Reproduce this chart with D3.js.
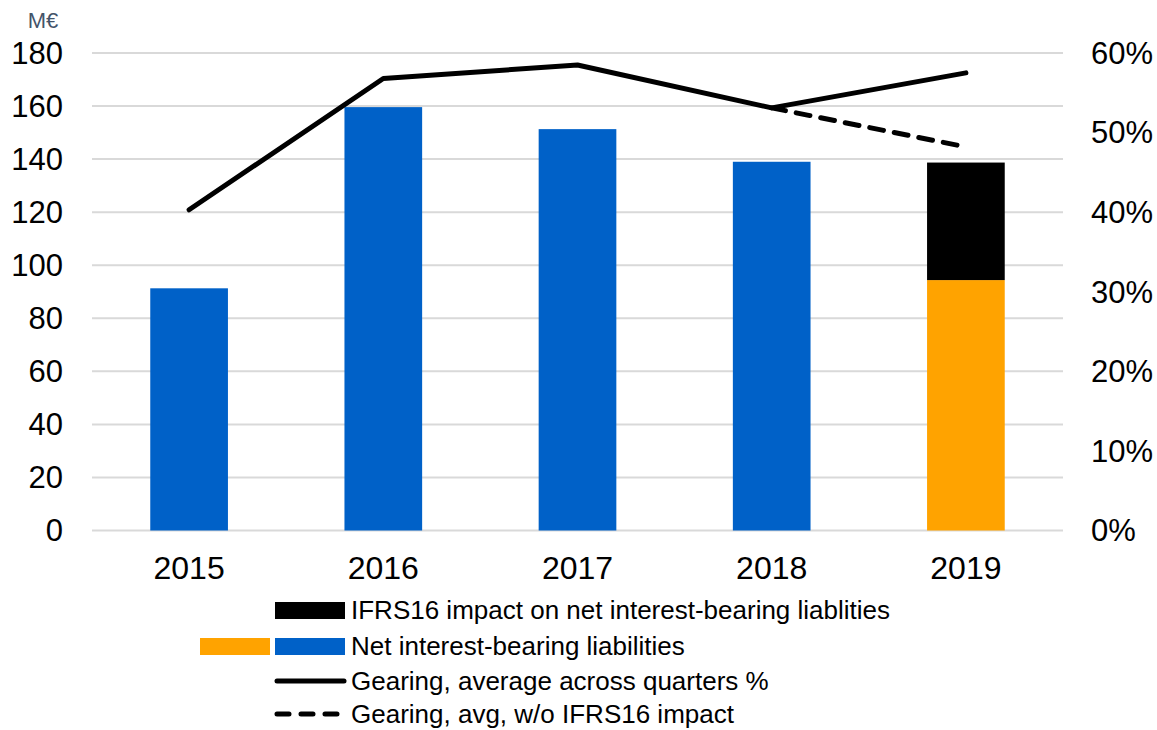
<!DOCTYPE html>
<html lang="en">
<head>
<meta charset="UTF-8">
<title>Net interest-bearing liabilities and gearing</title>
<script src="https://cdnjs.cloudflare.com/ajax/libs/d3/7.8.5/d3.min.js"></script>
<style>
    body { margin: 0; background: #fff; }
    svg text { font-family: "Liberation Sans", Arial, sans-serif; fill: #000; }
    .grid line { stroke: #d9d9d9; stroke-width: 2; }
</style>
</head>
<body>
<svg id="chart" width="1157" height="730"></svg>
<script>
// data
const years = ["2015", "2016", "2017", "2018", "2019"];
const netLiabilities = [91.3, 159.6, 151.3, 139.0, 94.4];   // blue (orange for 2019)
const ifrs16Impact = [0, 0, 0, 0, 44.3];                     // black, stacked on top
const gearing = [40.3, 56.8, 58.5, 53.1, 57.5];              // % solid line
const gearingNoIfrs = [null, null, null, 53.1, 48.2];        // % dashed line
const leftTicks = [0, 20, 40, 60, 80, 100, 120, 140, 160, 180];
const rightTicks = [0, 10, 20, 30, 40, 50, 60];

const blue = "#0061c8", orange = "#ffa300";

const svg = d3.select("#chart");
const margin = { left: 92, right: 94, top: 53, bottom: 199.5 };
const W = 1157, H = 730;

const x = d3.scaleBand().domain(years).range([margin.left, W - margin.right]).paddingInner(0.6).paddingOuter(0.3);
const y = d3.scaleLinear().domain([0, 180]).range([H - margin.bottom, margin.top]);
const y2 = d3.scaleLinear().domain([0, 60]).range([H - margin.bottom, margin.top]);

// gridlines
svg.append("g").attr("class", "grid")
    .selectAll("line").data(leftTicks).join("line")
    .attr("x1", margin.left).attr("x2", W - margin.right)
    .attr("y1", d => y(d)).attr("y2", d => y(d));

// left axis labels
svg.append("g").selectAll("text").data(leftTicks).join("text")
    .attr("x", 63).attr("y", d => y(d)).attr("dy", "0.35em")
    .attr("text-anchor", "end").style("font-size", "31px")
    .text(d => d);

svg.append("text").attr("x", 43).attr("y", 20).attr("dy", "0.35em")
    .attr("text-anchor", "middle").style("font-size", "22px").style("fill", "#44546a")
    .text("M€");

// right axis labels
svg.append("g").selectAll("text").data(rightTicks).join("text")
    .attr("x", 1091).attr("y", d => y2(d)).attr("dy", "0.35em")
    .attr("text-anchor", "start").style("font-size", "31px")
    .text(d => d + "%");

// x labels
svg.append("g").selectAll("text").data(years).join("text")
    .attr("x", d => x(d) + x.bandwidth() / 2).attr("y", 568).attr("dy", "0.35em")
    .attr("text-anchor", "middle").style("font-size", "32px")
    .text(d => d);

// bars
svg.append("g").selectAll("rect").data(years).join("rect")
    .attr("x", d => x(d)).attr("width", x.bandwidth())
    .attr("y", (d, i) => y(netLiabilities[i]))
    .attr("height", (d, i) => y(0) - y(netLiabilities[i]))
    .attr("fill", (d, i) => i === 4 ? orange : blue);

svg.append("g").selectAll("rect").data(years.filter((d, i) => ifrs16Impact[i] > 0)).join("rect")
    .attr("x", d => x(d)).attr("width", x.bandwidth())
    .attr("y", d => { const i = years.indexOf(d); return y(netLiabilities[i] + ifrs16Impact[i]); })
    .attr("height", d => { const i = years.indexOf(d); return y(netLiabilities[i]) - y(netLiabilities[i] + ifrs16Impact[i]); })
    .attr("fill", "#000");

// gearing lines
const cx = d => x(d) + x.bandwidth() / 2;
const line = d3.line().defined(d => d.v != null).x(d => cx(d.year)).y(d => y2(d.v));

svg.append("path")
    .datum(years.map((yr, i) => ({ year: yr, v: gearingNoIfrs[i] })))
    .attr("d", line).attr("fill", "none").attr("stroke", "#000")
    .attr("stroke-width", 5).attr("stroke-dasharray", "14,11").attr("stroke-linecap", "round");

svg.append("path")
    .datum(years.map((yr, i) => ({ year: yr, v: gearing[i] })))
    .attr("d", line).attr("fill", "none").attr("stroke", "#000")
    .attr("stroke-width", 5).attr("stroke-linecap", "round").attr("stroke-linejoin", "round");

// legend
const legend = svg.append("g").style("font-size", "26px");
const rows = [
    { label: "IFRS16 impact on net interest-bearing liablities", y: 610, type: "rect", colors: ["#000"] },
    { label: "Net interest-bearing liabilities", y: 646, type: "rect", colors: [blue, orange] },
    { label: "Gearing, average across quarters %", y: 681, type: "line" },
    { label: "Gearing, avg, w/o IFRS16 impact", y: 714, type: "dash" }
];
rows.forEach(r => {
    if (r.type === "rect") {
        r.colors.forEach((c, k) => {
            legend.append("rect").attr("x", 275 - k * 75).attr("y", r.y - 8)
                .attr("width", 70).attr("height", 17).attr("fill", c);
        });
    } else {
        legend.append("line").attr("x1", 277).attr("x2", 344).attr("y1", r.y).attr("y2", r.y)
            .attr("stroke", "#000").attr("stroke-width", 5).attr("stroke-linecap", "round")
            .attr("stroke-dasharray", r.type === "dash" ? "12,12" : null);
    }
    legend.append("text").attr("x", 351).attr("y", r.y).attr("dy", "0.35em").text(r.label);
});
</script>
</body>
</html>
